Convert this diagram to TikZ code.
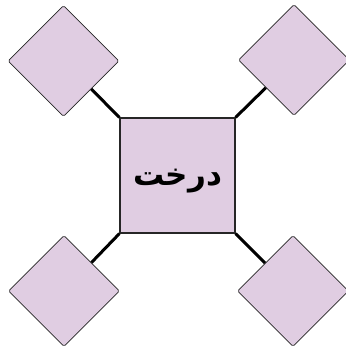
\documentclass[tikz,border=0pt]{standalone}
\usepackage{fontspec}
\newfontfamily\arabicfont[Script=Arabic]{DejaVu Sans}
\TeXXeTstate=1
\usetikzlibrary{shapes.geometric}
\definecolor{lilac}{RGB}{224,205,226}

\begin{document}
\begin{tikzpicture}[
  x=1pt, y=-1pt,
  every node/.style={font=\small},
  core/.style={draw=black!85, line width=1.2pt, fill=lilac, minimum width=115pt, minimum height=115pt, inner sep=0pt},
  leaf/.style={diamond, draw=black!85, line width=0.8pt, fill=lilac, minimum width=111pt, minimum height=111pt, inner sep=0pt, rounded corners=1.5pt},
  link/.style={line width=3pt, black},
]
\useasboundingbox (0,0) rectangle (346,346);
% centre square
\node[core] (tree) at (177.5,175.5) {};
\node (label) at ([yshift=-5.5pt]tree.center) {\arabicfont\bfseries\fontsize{31}{36}\selectfont\beginR درخت\endR};
% corner diamonds
\foreach \n/\x/\y in {nw/63.5/61, ne/294/60, sw/64/291, se/293/291} {
  \node[leaf] (\n) at (\x,\y) {};
}
% links from square corners
\foreach \n/\a in {nw/north west, ne/north east, sw/south west, se/south east} {
  \draw[link] (tree.\a) -- (\n);
}
\end{tikzpicture}
\end{document}
